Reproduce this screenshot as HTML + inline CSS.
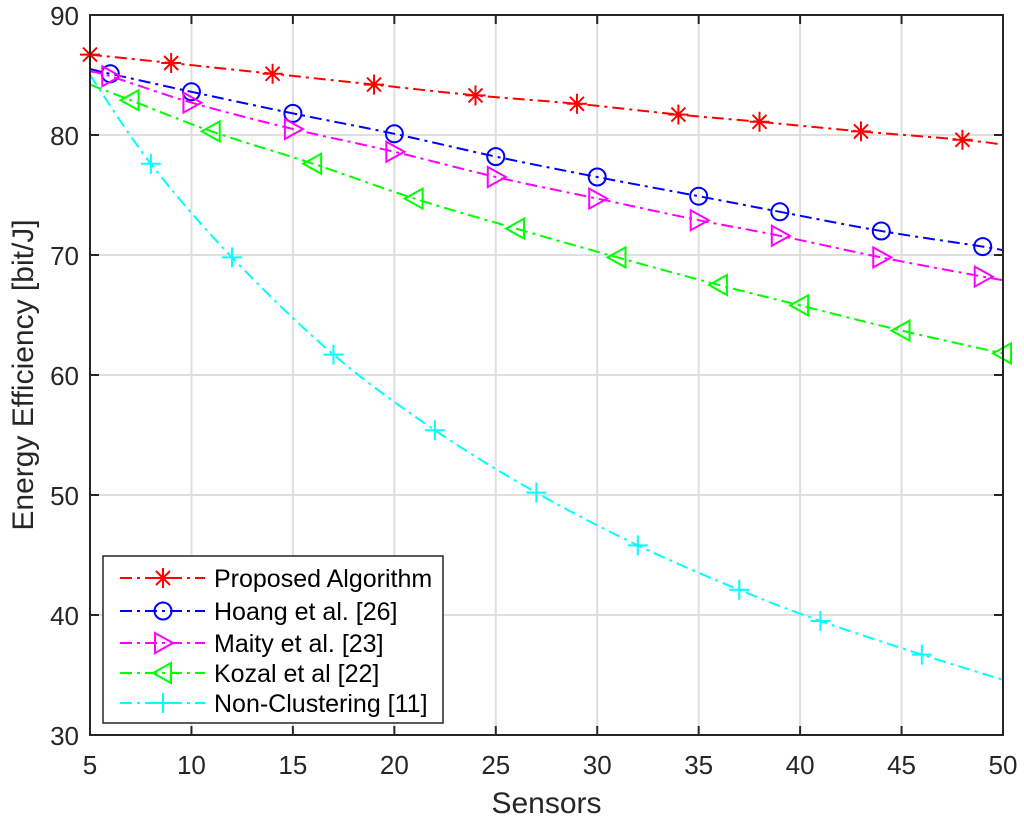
<!DOCTYPE html>
<html><head><meta charset="utf-8"><style>
html,body{margin:0;padding:0;background:#fff;}
svg{display:block;font-family:"Liberation Sans",sans-serif;}
</style></head><body>
<svg id="chart" width="1024" height="826" xmlns="http://www.w3.org/2000/svg"></svg>
<script>
const xTicks=[5,10,15,20,25,30,35,40,45,50];
const yTicks=[30,40,50,60,70,80,90];
const propX=[5,9,14,19,24,29,34,38,43,48,50];
const propY=[86.7,86.0,85.1,84.2,83.3,82.6,81.7,81.1,80.3,79.6,79.2];
const hoangX=[5,6,10,15,20,25,30,35,39,44,49,50];
const hoangY=[85.5,85.1,83.6,81.8,80.1,78.2,76.5,74.9,73.6,72.0,70.7,70.4];
const maityX=[5,6,10,15,20,25,30,35,39,44,49,50];
const maityY=[85.3,84.9,82.7,80.5,78.6,76.5,74.7,72.9,71.6,69.8,68.2,67.9];
const kozalX=[5,7,11,16,21,26,31,36,40,45,50];
const kozalY=[84.2,82.9,80.3,77.6,74.7,72.2,69.8,67.5,65.8,63.7,61.8];
const nonX=[5,8,12,17,22,27,32,37,41,46,50];
const nonY=[85.0,77.6,69.8,61.7,55.4,50.2,45.8,42.1,39.5,36.7,34.6];
const seriesNames=["Proposed Algorithm","Hoang et al. [26]","Maity et al. [23]","Kozal et al [22]","Non-Clustering [11]"];

const L=90,R=1003,T=15,B=735;
const sx=v=>L+(v-5)/45*(R-L);
const sy=v=>B-(v-30)/60*(B-T);
const NS="http://www.w3.org/2000/svg";
const svg=document.getElementById('chart');
function mk(tag,attrs,parent){const e=document.createElementNS(NS,tag);for(const k in attrs)e.setAttribute(k,attrs[k]);(parent||svg).appendChild(e);return e;}

const grid=mk('g',{});


xTicks.forEach(t=>mk('line',{x1:sx(t),x2:sx(t),y1:T,y2:B,stroke:'#dfdfdf','stroke-width':2},grid));
yTicks.forEach(t=>mk('line',{x1:L,x2:R,y1:sy(t),y2:sy(t),stroke:'#dfdfdf','stroke-width':2},grid));

function smooth(xs,ys){
  const p=xs.map((x,i)=>[sx(x),sy(ys[i])]);
  let d=`M${p[0][0]},${p[0][1]}`;
  for(let i=0;i<p.length-1;i++){
    const p0=p[Math.max(0,i-1)],p1=p[i],p2=p[i+1],p3=p[Math.min(p.length-1,i+2)];
    const c1=[p1[0]+(p2[0]-p0[0])/6,p1[1]+(p2[1]-p0[1])/6];
    const c2=[p2[0]-(p3[0]-p1[0])/6,p2[1]-(p3[1]-p1[1])/6];
    d+=`C${c1[0]},${c1[1]} ${c2[0]},${c2[1]} ${p2[0]},${p2[1]}`;
  }
  return d;
}
function marker(type,x,y,color,g){
  const s=10;
  if(type==='star'){
    mk('path',{d:`M${x-s},${y}H${x+s}M${x},${y-s}V${y+s}M${x-7},${y-7}L${x+7},${y+7}M${x-7},${y+7}L${x+7},${y-7}`,stroke:color,'stroke-width':2,fill:'none'},g);
  }else if(type==='circle'){
    mk('circle',{cx:x,cy:y,r:8.5,stroke:color,'stroke-width':2,fill:'none'},g);
  }else if(type==='right'){
    mk('path',{d:`M${x-8},${y-10}L${x+10},${y}L${x-8},${y+10}Z`,stroke:color,'stroke-width':2,fill:'none'},g);
  }else if(type==='left'){
    mk('path',{d:`M${x+8},${y-10}L${x-10},${y}L${x+8},${y+10}Z`,stroke:color,'stroke-width':2,fill:'none'},g);
  }else{
    mk('path',{d:`M${x-s},${y}H${x+s}M${x},${y-s}V${y+s}`,stroke:color,'stroke-width':2,fill:'none'},g);
  }
}
const series=[
 {x:propX,y:propY,c:'#ff0000',m:'star',name:'series-proposed',skipFirst:false,skipLast:true},
 {x:hoangX,y:hoangY,c:'#0000ff',m:'circle',name:'series-hoang',skipFirst:true,skipLast:true},
 {x:maityX,y:maityY,c:'#ff00ff',m:'right',name:'series-maity',skipFirst:true,skipLast:true},
 {x:kozalX,y:kozalY,c:'#00ff00',m:'left',name:'series-kozal',skipFirst:true,skipLast:false},
 {x:nonX,y:nonY,c:'#00ffff',m:'plus',name:'series-non-clustering',skipFirst:true,skipLast:true},
];
const dash='12 5 3 5';
series.forEach(s=>{
  const g=mk('g',{});
  
  
  mk('path',{d:smooth(s.x,s.y),stroke:s.c,'stroke-width':2,fill:'none','stroke-dasharray':dash},g);
  s.x.forEach((x,i)=>{
    if(i===0&&s.skipFirst)return;
    if(i===s.x.length-1&&s.skipLast)return;
    marker(s.m,sx(x),sy(s.y[i]),s.c,g);
  });
});

const ax=mk('g',{});


mk('rect',{x:L,y:T,width:R-L,height:B-T,fill:'none',stroke:'#262626','stroke-width':2},ax);
xTicks.forEach(t=>{
  mk('line',{x1:sx(t),x2:sx(t),y1:B,y2:B-9,stroke:'#262626','stroke-width':2},ax);
  mk('line',{x1:sx(t),x2:sx(t),y1:T,y2:T+9,stroke:'#262626','stroke-width':2},ax);
  const tx=mk('text',{x:sx(t),y:774,'text-anchor':'middle','font-size':26,fill:'#262626'},ax);
  tx.textContent=t;
  
  
});
yTicks.forEach(t=>{
  mk('line',{x1:L,x2:L+9,y1:sy(t),y2:sy(t),stroke:'#262626','stroke-width':2},ax);
  mk('line',{x1:R,x2:R-9,y1:sy(t),y2:sy(t),stroke:'#262626','stroke-width':2},ax);
  const ty=mk('text',{x:79,y:sy(t)+10,'text-anchor':'end','font-size':26,fill:'#262626'},ax);
  ty.textContent=t;
  
  
});
const xt=mk('text',{x:(L+R)/2,y:813,'text-anchor':'middle','font-size':30,fill:'#262626'});
xt.textContent='Sensors';


const yt=mk('text',{x:0,y:0,transform:`translate(33,${(T+B)/2}) rotate(-90)`,'text-anchor':'middle','font-size':30,fill:'#262626'});
yt.textContent='Energy Efficiency [bit/J]';



const lg=mk('g',{});


mk('rect',{x:103,y:556,width:340,height:167,fill:'#fff',stroke:'#262626','stroke-width':1.5},lg);
const rowY=[578,611,643,673,703];
series.forEach((s,i)=>{
  const e=mk('g',{},lg);
  
  
  mk('line',{x1:120,x2:205,y1:rowY[i],y2:rowY[i],stroke:s.c,'stroke-width':2,'stroke-dasharray':'12 5 3 5'},e);
  marker(s.m,163,rowY[i],s.c,e);
  const t=mk('text',{x:214,y:rowY[i]+9,'font-size':25,fill:'#000'},e);
  t.textContent=seriesNames[i];
});
</script>
</body></html>
